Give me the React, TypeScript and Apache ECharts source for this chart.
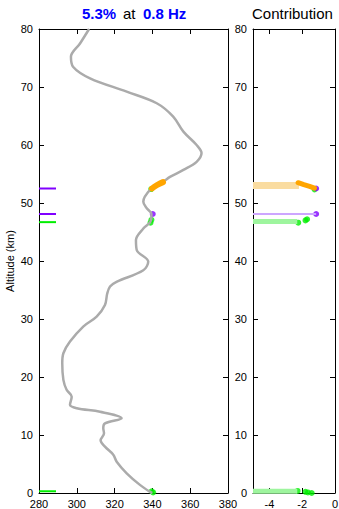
import React, { useEffect, useRef } from "react";
import * as echarts from "echarts";

// Sound-speed profile (left panel): altitude (km) and value (m/s)
const profileAlt = [0, 0.2, 1.4, 3.4, 5.4, 6.6, 8.0, 9.1, 10.3, 11.2, 12.0, 12.9, 14.0, 14.6, 15.2, 16.6, 17.8, 19.5, 22.4, 24.1, 26.1, 28.7, 30.4, 32.4, 34.4, 35.6, 36.4, 38.4, 39.9, 41.9, 43.6, 45.6, 46.8, 48.1, 49.1, 50.2, 51.1, 52.5, 53.7, 54.5, 55.7, 57.1, 58.6, 60.0, 62.3, 64.9, 67.2, 69.2, 71.5, 73.5, 75.2, 77.5, 80];
const profileSpeed = [340, 338.7, 333.4, 326.4, 321.1, 319.3, 314.9, 312.6, 314.4, 314, 314.9, 323.7, 312.3, 300, 296.4, 297.3, 294.6, 292.9, 292.3, 292.9, 296.4, 303.4, 310.5, 314.9, 316.1, 317.6, 321, 335.2, 337.8, 331.7, 331.3, 335.2, 339, 339.5, 337, 335.2, 336, 339.6, 345.8, 349.3, 356.4, 363.4, 366, 363.4, 356.4, 351, 342.3, 326.4, 307, 298, 296.9, 301.7, 306.5];

// Highlighted segment on profile (orange)
const orangeSegSpeed = [339.8, 342.5, 345.6];
const orangeSegAlt = [52.5, 53.1, 53.6];
// Purple and green points on profile
const purpleProfile = [[340.2, 48.1]];
const greenProfile = [[339.0, 46.6], [339.5, 47.1], [339.6, 0.3], [340.4, 0.1], [339.4, 52.4]];
// Left-edge marker lines (altitudes)
const purpleMarkAlt = [52.5, 48.1];
const greenMarkAlt = [46.7, 0.3];
const markFrom = 280;
const markTo = 289;

// Contribution panel
const contribMin = -5;
const orangeBandAlt = 53.0;
const orangeBandEnd = -2.2;
const orangeContribX = [-2.25, -1.9, -1.55, -1.25];
const orangeContribY = [53.5, 53.15, 52.85, 52.55];
const purpleContrib = [[-1.15, 52.5], [-1.15, 48.1]];
const purpleLineAlt = 48.1;
const purpleLineEnd = -1.15;
const greenBandAlt = [46.8, 0.3];
const greenBandEnd = [-2.3, -2.3];
const greenContrib = [[-2.24, 46.6], [-1.8, 47.0], [-1.7, 47.2], [-2.28, 0.35], [-1.8, 0.2], [-1.65, 0.1], [-1.42, 0.0], [-1.25, 52.35]];

const titleParts = ["5.3%", "at", "0.8 Hz"];
const contribTitle = "Contribution";
const yAxisName = "Altitude (km)";
const xTicksLeft = [280, 300, 320, 340, 360, 380];
const xTicksRight = [-4, -2, 0];

const FONT = "'Liberation Sans', Arial, Helvetica, sans-serif";

export default function App() {
  const ref = useRef<HTMLDivElement>(null);
  useEffect(() => {
    if (!ref.current) return;
    const chart = echarts.init(ref.current, undefined, { renderer: "svg" });
    const axisCommon = {
      axisLine: { show: true, onZero: false, lineStyle: { color: "#000", width: 1 } },
      axisTick: { show: true, inside: true, length: 5, lineStyle: { color: "#000" } },
      splitLine: { show: false },
      axisLabel: { color: "#000", fontSize: 11, fontFamily: FONT },
    };
    const profile = profileAlt.map((a, i) => [profileSpeed[i], a]);
    const orangeSeg = orangeSegAlt.map((a, i) => [orangeSegSpeed[i], a]);
    const markLines: any[] = [];
    purpleMarkAlt.forEach((a) =>
      markLines.push({
        type: "line", xAxisIndex: 0, yAxisIndex: 0, showSymbol: false, clip: false,
        data: [[markFrom, a], [markTo, a]], lineStyle: { color: "#8000FF", width: 2 }, silent: true,
      })
    );
    greenMarkAlt.forEach((a) =>
      markLines.push({
        type: "line", xAxisIndex: 0, yAxisIndex: 0, showSymbol: false, clip: false,
        data: [[markFrom, a], [markTo, a]], lineStyle: { color: "#00EE00", width: 2 }, silent: true,
      })
    );
    const greenBands = greenBandAlt.map((a, i) => ({
      type: "line", xAxisIndex: 2, yAxisIndex: 2, showSymbol: false, clip: false,
      data: [[contribMin, a], [greenBandEnd[i], a]],
      lineStyle: { color: "#9EF59E", width: 5 },
    }));
    const titleStyleB = { fontSize: 15, fontWeight: "bold", fill: "#0000FF", fontFamily: FONT, verticalAlign: "middle" };
    const titleStyleN = { fontSize: 15, fontWeight: "normal", fill: "#000", fontFamily: FONT, verticalAlign: "middle" };
    const option: any = {
      animation: false,
      graphic: [
        { type: "text", x: 82, y: 13, style: { ...titleStyleB, text: titleParts[0] } },
        { type: "text", x: 123, y: 13, style: { ...titleStyleN, text: titleParts[1] } },
        { type: "text", x: 143, y: 13, style: { ...titleStyleB, text: titleParts[2] } },
        { type: "text", x: 252, y: 13, style: { ...titleStyleN, text: contribTitle } },
        {
          type: "text", x: 10, y: 261, rotation: Math.PI / 2,
          style: { text: yAxisName, fontSize: 11, fill: "#000", fontFamily: FONT, align: "center", verticalAlign: "middle" },
        },
      ],
      grid: [
        { left: 39, top: 29, width: 189, height: 464, containLabel: false, outerBoundsMode: "none" },
        { left: 253, top: 29, width: 82, height: 464, containLabel: false, outerBoundsMode: "none" },
      ],
      xAxis: [
        { ...axisCommon, type: "value", gridIndex: 0, position: "bottom", min: 280, max: 380, interval: 20,
          axisLabel: { ...axisCommon.axisLabel, margin: 5, customValues: xTicksLeft },
          axisTick: { ...axisCommon.axisTick, customValues: xTicksLeft } },
        { ...axisCommon, type: "value", gridIndex: 0, position: "top", min: 280, max: 380, interval: 20,
          axisLabel: { show: false } },
        { ...axisCommon, type: "value", gridIndex: 1, position: "bottom", min: -5, max: 0,
          axisLabel: { ...axisCommon.axisLabel, margin: 5, customValues: xTicksRight },
          axisTick: { ...axisCommon.axisTick, customValues: xTicksRight } },
        { ...axisCommon, type: "value", gridIndex: 1, position: "top", min: -5, max: 0,
          axisLabel: { show: false },
          axisTick: { ...axisCommon.axisTick, customValues: xTicksRight } },
      ],
      yAxis: [
        { ...axisCommon, type: "value", gridIndex: 0, position: "left", min: 0, max: 80, interval: 10,
          axisLabel: { ...axisCommon.axisLabel, margin: 6 } },
        { ...axisCommon, type: "value", gridIndex: 0, position: "right", min: 0, max: 80, interval: 10,
          axisLabel: { show: false } },
        { ...axisCommon, type: "value", gridIndex: 1, position: "left", min: 0, max: 80, interval: 10,
          axisLabel: { ...axisCommon.axisLabel, margin: 6 } },
        { ...axisCommon, type: "value", gridIndex: 1, position: "right", min: 0, max: 80, interval: 10,
          axisLabel: { show: false } },
      ],
      series: [
        {
          type: "line", xAxisIndex: 0, yAxisIndex: 0, data: profile, showSymbol: false,
          smooth: 0.35, lineStyle: { color: "#ABABAB", width: 2.5 }, silent: true,
        },
        ...markLines,
        {
          type: "scatter", xAxisIndex: 0, yAxisIndex: 0, data: greenProfile, symbolSize: 6,
          itemStyle: { color: "#00EE00" }, clip: false,
        },
        {
          type: "line", xAxisIndex: 0, yAxisIndex: 0, data: orangeSeg, showSymbol: false, smooth: true,
          lineStyle: { color: "#FFA500", width: 6, cap: "round" }, clip: false,
        },
        {
          type: "scatter", xAxisIndex: 0, yAxisIndex: 0, data: purpleProfile, symbolSize: 6,
          itemStyle: { color: "#8000FF" }, clip: false,
        },
        // Contribution panel
        {
          type: "line", xAxisIndex: 2, yAxisIndex: 2, showSymbol: false, clip: false,
          data: [[contribMin, orangeBandAlt], [orangeBandEnd, orangeBandAlt]],
          lineStyle: { color: "#FADCA0", width: 7 },
        },
        {
          type: "line", xAxisIndex: 2, yAxisIndex: 2, showSymbol: false, clip: false,
          data: [[contribMin, purpleLineAlt], [purpleLineEnd, purpleLineAlt]],
          lineStyle: { color: "#CDA6FF", width: 2 },
        },
        ...greenBands,
        {
          type: "scatter", xAxisIndex: 2, yAxisIndex: 2, data: greenContrib, symbolSize: 6,
          itemStyle: { color: "#00EE00" }, clip: false,
        },
        {
          type: "line", xAxisIndex: 2, yAxisIndex: 2, showSymbol: false, clip: false,
          data: orangeContribX.map((x, i) => [x, orangeContribY[i]]),
          lineStyle: { color: "#FFA500", width: 5, cap: "round" },
        },
        {
          type: "scatter", xAxisIndex: 2, yAxisIndex: 2, data: purpleContrib, symbolSize: 6,
          itemStyle: { color: "#8000FF" }, clip: false,
        },
      ],
    };
    chart.setOption(option);
    return () => chart.dispose();
  }, []);
  return (
    <div
      ref={ref}
      style={{ position: "fixed", left: 0, top: 0, width: 339, height: 509, background: "#fff" }}
    />
  );
}
